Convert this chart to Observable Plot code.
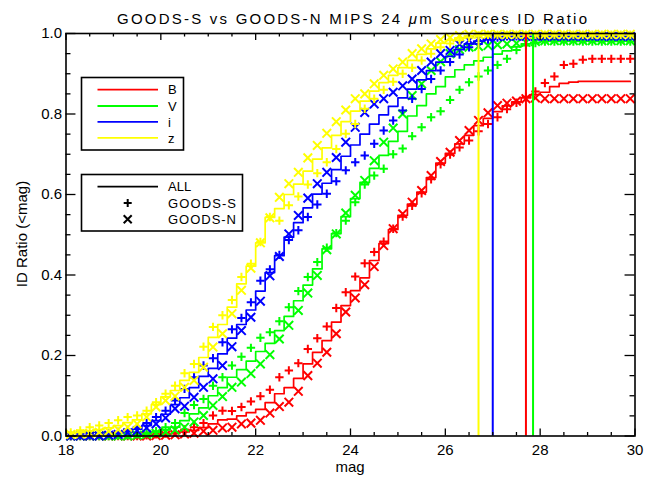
<!DOCTYPE html>
<html><head><meta charset="utf-8">
<script src="https://cdn.jsdelivr.net/npm/d3@7"></script>
<script src="https://cdn.jsdelivr.net/npm/@observablehq/plot@0.6"></script>
<style>html,body{margin:0;padding:0;background:#fff;}</style>
</head><body><div id="chart"></div>
<script>
// ---- data ----
const mags = [18.1,18.3,18.5,18.7,18.9,19.1,19.3,19.5,19.7,19.9,
              20.1,20.3,20.5,20.7,20.9,21.1,21.3,21.5,21.7,21.9,
              22.1,22.3,22.5,22.7,22.9,23.1,23.3,23.5,23.7,23.9,
              24.1,24.3,24.5,24.7,24.9,25.1,25.3,25.5,25.7,25.9,
              26.1,26.3,26.5,26.7,26.9,27.1,27.3,27.5,27.7,27.9,
              28.1,28.3,28.5,28.7,28.9,29.1,29.3,29.5,29.7,29.9];

const bands = ["B","V","i","z"];
const bandColors = ["#ff0000","#00ff00","#0000ff","#ffff00"];
const bandLimits = [27.7, 27.85, 27.0, 26.7];

const B_all = [0,0,0,0,0,0,0,0,0.001,0.002,
  0.004,0.006,0.010,0.014,0.021,0.030,0.040,0.042,0.050,0.058,
  0.066,0.083,0.105,0.120,0.143,0.179,0.208,0.237,0.283,0.324,
  0.361,0.393,0.436,0.478,0.513,0.548,0.576,0.606,0.642,0.678,
  0.702,0.726,0.747,0.771,0.789,0.806,0.820,0.830,0.840,0.848,
  0.854,0.868,0.876,0.879,0.881,0.881,0.881,0.881,0.881,0.881];
const B_s = [0,0,0,0,0,0,0,0,0.002,0.004,
  0.006,0.010,0.016,0.022,0.032,0.051,0.063,0.062,0.072,0.086,
  0.099,0.115,0.146,0.163,0.181,0.216,0.243,0.272,0.318,0.357,
  0.396,0.429,0.457,0.483,0.515,0.545,0.572,0.603,0.638,0.675,
  0.699,0.717,0.734,0.757,0.775,0.792,0.812,0.828,0.843,0.856,
  0.877,0.893,0.922,0.925,0.935,0.937,0.937,0.937,0.937,0.937];
const B_n = [0,0,0,0,0,0,0,0,0,0.001,
  0.002,0.003,0.005,0.007,0.012,0.014,0.020,0.022,0.030,0.032,
  0.039,0.057,0.073,0.084,0.111,0.150,0.181,0.208,0.254,0.308,
  0.343,0.376,0.421,0.473,0.515,0.552,0.581,0.610,0.647,0.682,
  0.705,0.734,0.759,0.784,0.803,0.821,0.827,0.832,0.838,0.840,
  0.838,0.838,0.838,0.838,0.838,0.838,0.838,0.838,0.838,0.838];

const V_all = [0,0,0,0,0,0,0.001,0.003,0.005,0.009,
  0.015,0.022,0.038,0.055,0.070,0.100,0.120,0.146,0.165,0.186,
  0.210,0.230,0.262,0.297,0.336,0.375,0.415,0.465,0.503,0.545,
  0.590,0.630,0.665,0.697,0.732,0.757,0.795,0.821,0.850,0.868,
  0.892,0.910,0.922,0.932,0.941,0.949,0.957,0.967,0.974,0.978,
  0.981,0.981,0.981,0.981,0.981,0.981,0.981,0.981,0.981,0.981];
const V_s = [0,0,0,0,0,0.001,0.002,0.004,0.007,0.012,
  0.022,0.032,0.057,0.077,0.092,0.125,0.146,0.175,0.197,0.219,
  0.244,0.258,0.285,0.320,0.360,0.395,0.432,0.468,0.504,0.535,
  0.581,0.625,0.647,0.664,0.700,0.714,0.745,0.767,0.792,0.807,
  0.835,0.860,0.879,0.893,0.908,0.922,0.937,0.959,0.970,0.976,
  0.980,0.980,0.980,0.980,0.980,0.980,0.980,0.980,0.980,0.980];
const V_n = [0,0,0,0,0,0,0,0.002,0.004,0.007,
  0.010,0.015,0.022,0.035,0.051,0.076,0.098,0.121,0.134,0.155,
  0.179,0.202,0.241,0.275,0.312,0.355,0.399,0.463,0.502,0.554,
  0.598,0.635,0.684,0.730,0.765,0.800,0.846,0.875,0.908,0.930,
  0.950,0.960,0.966,0.968,0.970,0.972,0.974,0.976,0.978,0.980,
  0.982,0.982,0.982,0.982,0.982,0.982,0.982,0.982,0.982,0.982];

const I_all = [0,0.001,0.001,0.002,0.004,0.007,0.011,0.017,0.026,0.038,
  0.054,0.078,0.095,0.120,0.148,0.168,0.204,0.243,0.277,0.313,
  0.360,0.406,0.448,0.494,0.530,0.567,0.601,0.628,0.662,0.695,
  0.723,0.750,0.775,0.798,0.819,0.840,0.862,0.885,0.908,0.929,
  0.943,0.960,0.974,0.981,0.987,0.990,0.992,0.993,0.993,0.993,
  0.993,0.993,0.993,0.993,0.993,0.993,0.993,0.993,0.993,0.993];
const I_s = [0,0.001,0.002,0.004,0.006,0.010,0.015,0.022,0.032,0.047,
  0.063,0.088,0.117,0.146,0.175,0.193,0.233,0.265,0.293,0.332,
  0.386,0.414,0.450,0.487,0.511,0.544,0.575,0.602,0.633,0.660,
  0.680,0.697,0.726,0.759,0.784,0.809,0.838,0.862,0.887,0.908,
  0.929,0.948,0.966,0.974,0.985,0.990,0.993,0.993,0.993,0.993,
  0.993,0.993,0.993,0.993,0.993,0.993,0.993,0.993,0.993,0.993];
const I_n = [0,0,0,0,0.002,0.004,0.008,0.013,0.020,0.030,
  0.045,0.068,0.074,0.096,0.121,0.142,0.175,0.222,0.262,0.295,
  0.335,0.398,0.446,0.502,0.548,0.591,0.627,0.655,0.692,0.730,
  0.767,0.804,0.825,0.838,0.854,0.870,0.887,0.908,0.929,0.950,
  0.958,0.973,0.983,0.988,0.990,0.992,0.993,0.993,0.993,0.993,
  0.993,0.993,0.993,0.993,0.993,0.993,0.993,0.993,0.993,0.993];

const Z_all = [0.006,0.009,0.013,0.016,0.020,0.026,0.033,0.040,0.055,0.078,
  0.097,0.113,0.138,0.158,0.195,0.245,0.277,0.320,0.378,0.422,
  0.480,0.543,0.565,0.600,0.626,0.658,0.688,0.716,0.747,0.781,
  0.807,0.832,0.857,0.878,0.896,0.915,0.933,0.948,0.962,0.976,
  0.983,0.989,0.994,0.996,0.998,0.998,0.998,0.998,0.998,0.998,
  0.998,0.998,0.998,0.998,0.998,0.998,0.998,0.998,0.998,0.998];
const Z_s = [0.009,0.014,0.022,0.026,0.032,0.039,0.047,0.051,0.063,0.084,
  0.105,0.125,0.156,0.179,0.222,0.271,0.300,0.338,0.395,0.428,
  0.482,0.544,0.535,0.573,0.595,0.625,0.653,0.680,0.713,0.751,
  0.775,0.813,0.838,0.860,0.880,0.900,0.915,0.933,0.950,0.966,
  0.975,0.983,0.990,0.995,0.997,0.997,0.997,0.997,0.997,0.997,
  0.997,0.997,0.997,0.997,0.997,0.997,0.997,0.997,0.997,0.997];
const Z_n = [0.004,0.005,0.007,0.009,0.012,0.016,0.022,0.030,0.047,0.072,
  0.088,0.099,0.121,0.138,0.171,0.221,0.254,0.304,0.362,0.417,
  0.480,0.542,0.593,0.627,0.655,0.691,0.722,0.752,0.781,0.810,
  0.838,0.850,0.875,0.896,0.912,0.929,0.950,0.962,0.974,0.985,
  0.990,0.995,0.998,0.998,0.998,0.998,0.998,0.998,0.998,0.998,
  0.998,0.998,0.998,0.998,0.998,0.998,0.998,0.998,0.998,0.998];

const xMajorTicks = [18,20,22,24,26,28,30];
const xMinorTicks = [18.5,19,19.5,20.5,21,21.5,22.5,23,23.5,24.5,25,25.5,26.5,27,27.5,28.5,29,29.5];
const yMajorTicks = [0,0.2,0.4,0.6,0.8,1.0];
const yMinorTicks = [0.05,0.1,0.15,0.25,0.3,0.35,0.45,0.5,0.55,0.65,0.7,0.75,0.85,0.9,0.95];

const titleText = "GOODS-S vs GOODS-N MIPS 24 ";
const xLabel = "mag";
const yLabel = "ID Ratio (<mag)";
const sampleLabels = ["ALL","GOODS-S","GOODS-N"];

// ---- build table ----
const allSeries = [B_all, V_all, I_all, Z_all];
const sSeries = [B_s, V_s, I_s, Z_s];
const nSeries = [B_n, V_n, I_n, Z_n];
const rows = [];
bands.forEach((b, k) => mags.forEach((m, i) => rows.push({band: b, mag: m, all: allSeries[k][i], s: sSeries[k][i], n: nSeries[k][i]})));

// custom stroked symbols whose r is the half-size
const plusSym = {draw(ctx, size) { const r = Math.sqrt(size / Math.PI); ctx.moveTo(-r, 0); ctx.lineTo(r, 0); ctx.moveTo(0, -r); ctx.lineTo(0, r); }};
const timesSym = {draw(ctx, size) { const r = Math.sqrt(size / Math.PI); ctx.moveTo(-r, -r); ctx.lineTo(r, r); ctx.moveTo(-r, r); ctx.lineTo(r, -r); }};

const FONT = "'Liberation Sans', Arial, Helvetica, sans-serif";
const W = 657, H = 479;
const TLy = 0.0175, TLx = 0.21; // tick lengths in data units

const marks = [];
bands.forEach((b, k) => {
  const data = rows.filter(d => d.band === b);
  const c = bandColors[k];
  marks.push(Plot.line(data, {x: "mag", y: "all", curve: "step", stroke: c, strokeWidth: 1.7}));
  marks.push(Plot.dot(data, {x: "mag", y: "s", symbol: plusSym, r: 4.2, stroke: c, strokeWidth: 2, fill: "none"}));
  marks.push(Plot.dot(data, {x: "mag", y: "n", symbol: timesSym, r: 4.3, stroke: c, strokeWidth: 2, fill: "none"}));
});
marks.push(Plot.ruleX(bandLimits, {x: d => d, y1: 0, y2: 1, stroke: (d, i) => bandColors[i], strokeWidth: 2}));
// inward ticks on all four sides
marks.push(Plot.ruleX(xMajorTicks, {x: d => d, y1: 0, y2: TLy, stroke: "black", strokeWidth: 1.3}));
marks.push(Plot.ruleX(xMajorTicks, {x: d => d, y1: 1, y2: 1 - TLy, stroke: "black", strokeWidth: 1.3}));
marks.push(Plot.ruleX(xMinorTicks, {x: d => d, y1: 0, y2: TLy / 2, stroke: "black", strokeWidth: 1.3}));
marks.push(Plot.ruleX(xMinorTicks, {x: d => d, y1: 1, y2: 1 - TLy / 2, stroke: "black", strokeWidth: 1.3}));
marks.push(Plot.ruleY(yMajorTicks, {y: d => d, x1: 18, x2: 18 + TLx, stroke: "black", strokeWidth: 1.3}));
marks.push(Plot.ruleY(yMajorTicks, {y: d => d, x1: 30, x2: 30 - TLx, stroke: "black", strokeWidth: 1.3}));
marks.push(Plot.ruleY(yMinorTicks, {y: d => d, x1: 18, x2: 18 + TLx / 2, stroke: "black", strokeWidth: 1.3}));
marks.push(Plot.ruleY(yMinorTicks, {y: d => d, x1: 30, x2: 30 - TLx / 2, stroke: "black", strokeWidth: 1.3}));
marks.push(Plot.frame({stroke: "black", strokeWidth: 1.6}));
marks.push(Plot.axisX({ticks: xMajorTicks, tickSize: 0, tickPadding: 8, tickFormat: d => String(d), label: null}));
marks.push(Plot.axisY({ticks: yMajorTicks, tickSize: 0, tickPadding: 4, tickFormat: d3.format(".1f"), label: null}));

const chart = Plot.plot({
  width: W, height: H,
  marginLeft: 65.5, marginRight: 22.5, marginTop: 33, marginBottom: 43.5,
  x: {domain: [18, 30]},
  y: {domain: [0, 1]},
  style: {fontFamily: FONT, fontSize: "15px", background: "white", color: "black", overflow: "visible"},
  marks
});
document.getElementById("chart").appendChild(chart);

// ---- titles and legends ----
const svg = d3.select(chart);
const t = svg.append("text").attr("x", 352).attr("y", 24).attr("text-anchor", "middle")
  .attr("font-family", FONT).attr("font-size", 15).attr("fill", "black")
  .attr("textLength", 470).attr("lengthAdjust", "spacing");
t.append("tspan").text(titleText);
t.append("tspan").attr("font-style", "italic").text("μ");
t.append("tspan").text("m Sources ID Ratio");

svg.append("text").attr("x", 350).attr("y", 472).attr("text-anchor", "middle")
  .attr("font-family", FONT).attr("font-size", 15).attr("fill", "black").text(xLabel);
svg.append("text").attr("transform", "translate(27,234) rotate(-90)").attr("text-anchor", "middle")
  .attr("font-family", FONT).attr("font-size", 15).attr("fill", "black").text(yLabel);

const lg = svg.append("g").attr("font-family", FONT).attr("font-size", 13).attr("fill", "black").attr("text-anchor", "start");
// band legend
lg.append("rect").attr("x", 81.5).attr("y", 77.5).attr("width", 102).attr("height", 72.5)
  .attr("fill", "white").attr("stroke", "black").attr("stroke-width", 1.6);
const bandY = [89.7, 106, 121.9, 137.9];
bands.forEach((b, k) => {
  lg.append("line").attr("x1", 97.5).attr("x2", 158).attr("y1", bandY[k]).attr("y2", bandY[k])
    .attr("stroke", bandColors[k]).attr("stroke-width", 1.8);
  lg.append("text").attr("x", 168).attr("y", bandY[k]).attr("dy", "0.36em").attr("text-anchor", "start").text(b);
});
// sample legend
lg.append("rect").attr("x", 81.5).attr("y", 174.5).attr("width", 161).attr("height", 56.5)
  .attr("fill", "white").attr("stroke", "black").attr("stroke-width", 1.6);
const sampY = [186.7, 202.9, 219.3];
lg.append("line").attr("x1", 97.5).attr("x2", 158).attr("y1", sampY[0]).attr("y2", sampY[0])
  .attr("stroke", "black").attr("stroke-width", 1.8);
const symPath = (sym, r) => { const p = d3.path(); sym.draw(p, Math.PI * r * r); return p.toString(); };
lg.append("path").attr("d", symPath(plusSym, 4)).attr("transform", `translate(127.7,${sampY[1]})`)
  .attr("stroke", "black").attr("stroke-width", 2).attr("fill", "none");
lg.append("path").attr("d", symPath(timesSym, 4)).attr("transform", `translate(127.7,${sampY[2]})`)
  .attr("stroke", "black").attr("stroke-width", 2).attr("fill", "none");
sampleLabels.forEach((s, k) => {
  const tx = lg.append("text").attr("x", 168).attr("y", sampY[k]).attr("dy", "0.36em").attr("text-anchor", "start").text(s);
  if (k > 0) tx.attr("textLength", 68).attr("lengthAdjust", "spacing");
});
</script>
</body></html>
